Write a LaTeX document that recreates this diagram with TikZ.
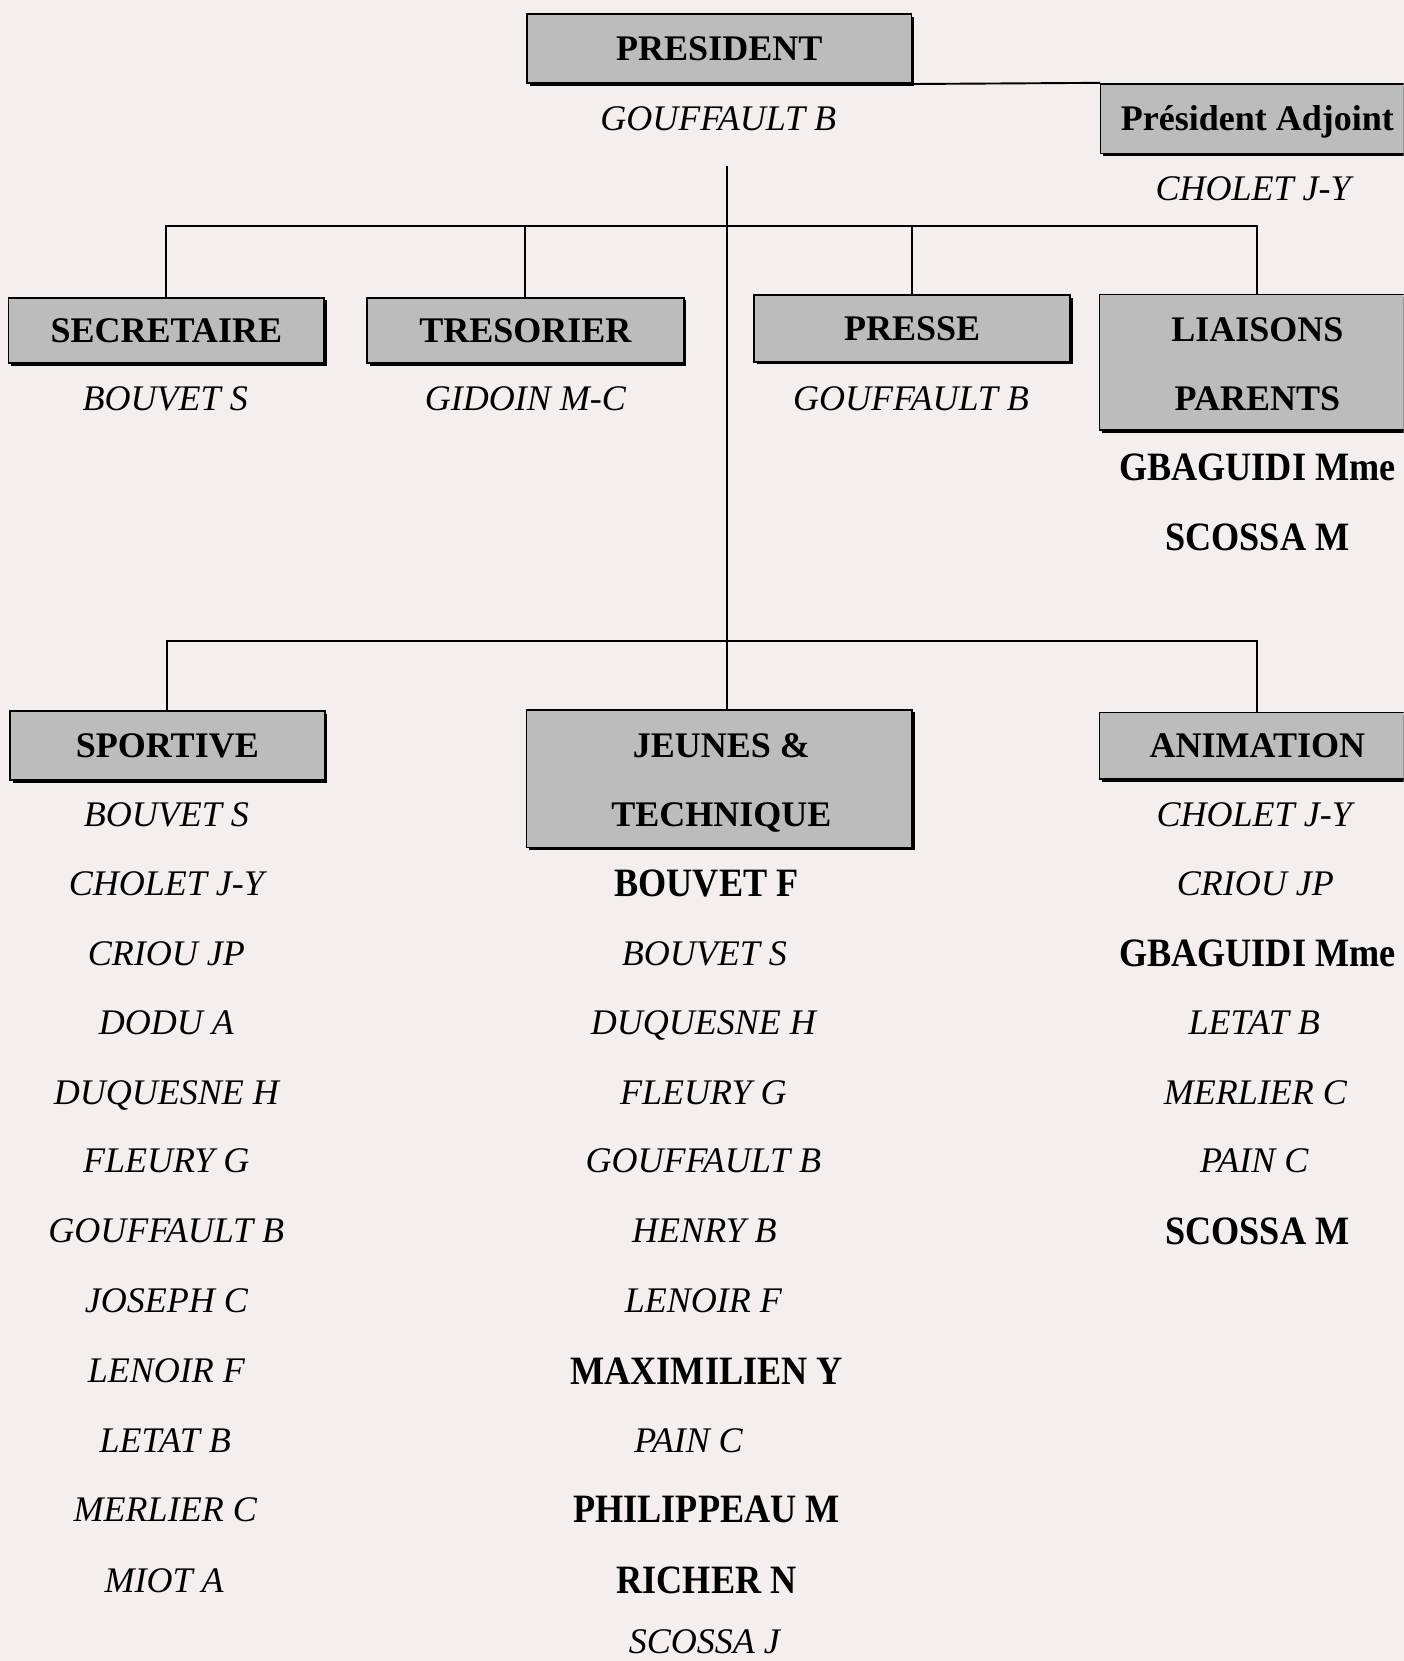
\documentclass[tikz,border=0pt]{standalone}
\usepackage{fontspec}
\setmainfont{Liberation Serif}
\newfontfamily\tallserif{Liberation Serif}[FakeStretch=0.9]
\usetikzlibrary{shadows}
\definecolor{paper}{RGB}{244,238,238}
\definecolor{boxgray}{RGB}{188,188,188}
\begin{document}
\begin{tikzpicture}[x=1pt,y=-1pt,
  box/.style={draw=black, line width=1.6pt, fill=boxgray, inner sep=0pt, minimum height=64pt,
    drop shadow={shadow xshift=2.5pt, shadow yshift=-2.5pt, fill=black, opacity=1},
    font=\fontsize{34}{65}\selectfont\bfseries, align=center, text height=22.5pt, text depth=0pt},
  boxtext/.style={inner sep=0pt, text height=22.5pt, text depth=0pt, font=\fontsize{34}{40}\selectfont\bfseries},
  nm/.style={inner sep=0pt, text height=22.5pt, text depth=0pt, font=\fontsize{34}{40}\selectfont\itshape},
  nb/.style={inner sep=0pt, text height=25pt, text depth=0pt, font=\tallserif\fontsize{38}{44}\selectfont\bfseries},
  link/.style={line width=1.8pt}]
\useasboundingbox (0,0) rectangle (1325,1568);
\fill[paper] (0,0) rectangle (1325,1568);
\clip (0,0) rectangle (1325,1568);

% connectors' helper points
\coordinate (t0) at (686,157);
\coordinate (bar1) at (686,213);
\coordinate (bar2) at (686,605);

% boxes
\node[box, minimum width=363pt, minimum height=65pt] (pres) at (679,46) {PRESIDENT};
\node[box, minimum width=296pt, minimum height=66pt] (adj) at (1187,112) {Président Adjoint};
\node[box, minimum width=298pt, minimum height=62pt] (sec) at (157,312) {SECRETAIRE};
\node[box, minimum width=299pt, minimum height=62pt] (tres) at (496,312) {TRESORIER};
\node[box, minimum width=298pt, minimum height=63pt] (presse) at (861,310) {PRESSE};
\node[box, minimum width=298pt, minimum height=128pt] (liais) at (1187,342) {};
\node[boxtext] (liaisA) at (1187,311) {LIAISONS};
\node[boxtext] (liaisB) at (1187,376) {PARENTS};
\node[box, minimum width=297pt, minimum height=65pt] (sport) at (158,704) {SPORTIVE};
\node[box, minimum width=364pt, minimum height=130pt] (jeunes) at (679,735) {};
\node[boxtext] (jeunesA) at (681,704) {JEUNES \&};
\node[boxtext] (jeunesB) at (681,769) {TECHNIQUE};
\node[box, minimum width=298pt, minimum height=63pt] (anim) at (1187,704) {ANIMATION};

% connectors
\draw[link] (pres.south east) -- (adj.north west);
\draw[link] (t0) -- (t0 |- jeunes.north);
\draw[link] (sec.north) |- (bar1) -| (liais.north);
\draw[link] (tres.north) -- (tres.north |- bar1);
\draw[link] (presse.north) -- (presse.north |- bar1);
\draw[link] (sport.north) |- (bar2) -| (anim.north);

% names under top boxes
\node[nm] (n1) at (678,112) {GOUFFAULT B};
\node[nm] (n2) at (1183,178) {CHOLET J-Y};
\node[nm] (n3) at (156,376) {BOUVET S};
\node[nm] (n4) at (496,376) {GIDOIN M-C};
\node[nm] (n5) at (860,376) {GOUFFAULT B};
\node[nb] (n6) at (1187,441) {GBAGUIDI Mme};
\node[nb] (n7) at (1187,507) {SCOSSA M};

% SPORTIVE list
\node[nm] (s1) at (157,769) {BOUVET S};
\node[nm] (s2) at (157,834) {CHOLET J-Y};
\node[nm] (s3) at (157,900) {CRIOU JP};
\node[nm] (s4) at (157,965) {DODU A};
\node[nm] (s5) at (157,1031) {DUQUESNE H};
\node[nm] (s6) at (157,1096) {FLEURY G};
\node[nm] (s7) at (157,1162) {GOUFFAULT B};
\node[nm] (s8) at (157,1228) {JOSEPH C};
\node[nm] (s9) at (157,1294) {LENOIR F};
\node[nm] (s10) at (156,1360) {LETAT B};
\node[nm] (s11) at (156,1425) {MERLIER C};
\node[nm] (s12) at (155,1492) {MIOT A};

% JEUNES & TECHNIQUE list
\node[nb] (j1) at (667,834) {BOUVET F};
\node[nm] (j2) at (665,900) {BOUVET S};
\node[nm] (j3) at (664,965) {DUQUESNE H};
\node[nm] (j4) at (664,1031) {FLEURY G};
\node[nm] (j5) at (664,1096) {GOUFFAULT B};
\node[nm] (j6) at (665,1162) {HENRY B};
\node[nm] (j7) at (664,1228) {LENOIR F};
\node[nb] (j8) at (667,1294) {MAXIMILIEN Y};
\node[nm] (j9) at (650,1360) {PAIN C};
\node[nb] (j10) at (667,1425) {PHILIPPEAU M};
\node[nb] (j11) at (667,1492) {RICHER N};
\node[nm] (j12) at (665,1550) {SCOSSA J};

% ANIMATION list
\node[nm] (a1) at (1184,769) {CHOLET J-Y};
\node[nm] (a2) at (1185,834) {CRIOU JP};
\node[nb] (a3) at (1187,900) {GBAGUIDI Mme};
\node[nm] (a4) at (1184,965) {LETAT B};
\node[nm] (a5) at (1185,1031) {MERLIER C};
\node[nm] (a6) at (1184,1096) {PAIN C};
\node[nb] (a7) at (1187,1162) {SCOSSA M};
\end{tikzpicture}
\end{document}
